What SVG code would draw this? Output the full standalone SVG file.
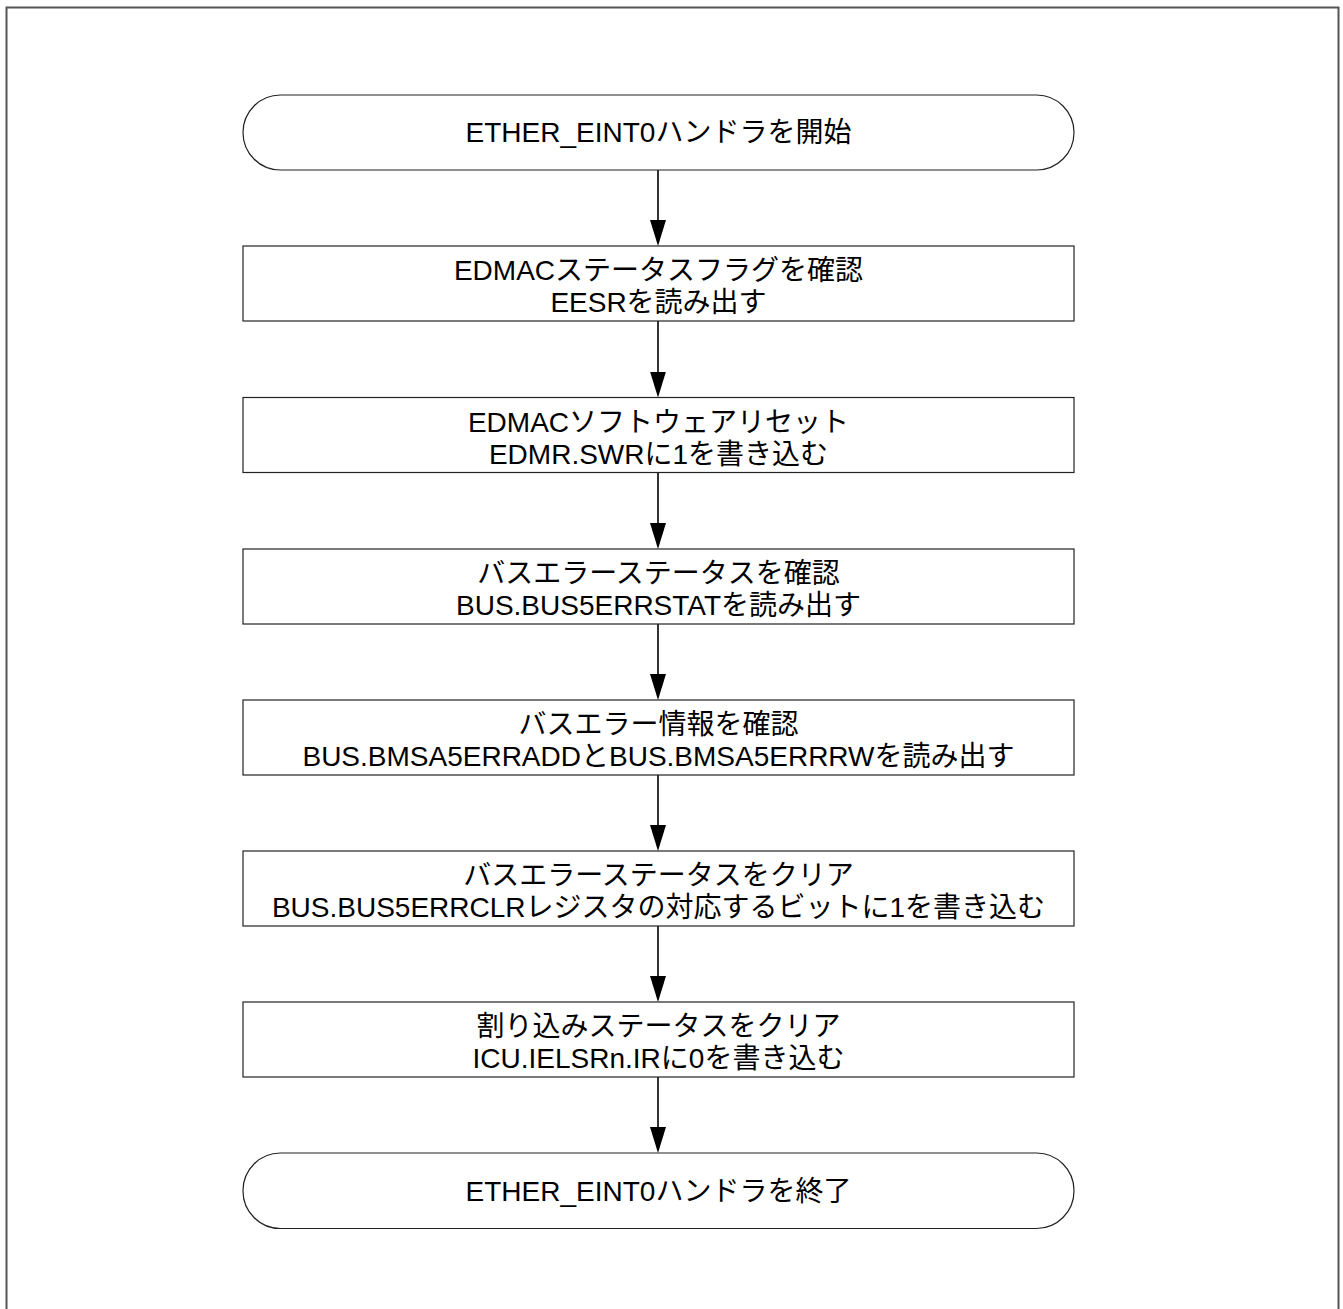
<svg xmlns="http://www.w3.org/2000/svg" width="1343" height="1309" viewBox="0 0 1343 1309">
<defs>
<style>
.frame{fill:none;stroke:#555;stroke-width:2}
.node{fill:#fff;stroke:#222;stroke-width:1.2}
.t{font-family:"Liberation Sans","Noto Sans CJK JP",sans-serif;font-size:28px;fill:#000;text-anchor:middle}
.c{stroke:#000;stroke-width:1.6;fill:none}
</style>
<marker id="ah" markerUnits="userSpaceOnUse" markerWidth="26" markerHeight="16" refX="23" refY="8" orient="auto" viewBox="0 0 26 16">
<path d="M0,0 L26,8 L0,16 Z" fill="#000"/>
</marker>
</defs>
<rect width="1343" height="1309" fill="#fff"/>
<rect class="frame" x="6.5" y="7.5" width="1332" height="1312"/>
<g id="connectors">
<line class="c" x1="658" y1="170" x2="658" y2="243" marker-end="url(#ah)"/>
<line class="c" x1="658" y1="321" x2="658" y2="394.5" marker-end="url(#ah)"/>
<line class="c" x1="658" y1="472.5" x2="658" y2="546" marker-end="url(#ah)"/>
<line class="c" x1="658" y1="624" x2="658" y2="697" marker-end="url(#ah)"/>
<line class="c" x1="658" y1="775" x2="658" y2="848" marker-end="url(#ah)"/>
<line class="c" x1="658" y1="926" x2="658" y2="999" marker-end="url(#ah)"/>
<line class="c" x1="658" y1="1077" x2="658" y2="1150" marker-end="url(#ah)"/>
</g>
<g id="start">
<rect class="node" x="243" y="95" width="831" height="75" rx="37.5" ry="37.5"/>
<text class="t" x="658.5" y="142">ETHER_EINT0ハンドラを開始</text>
</g>
<g id="n1">
<rect class="node" x="243" y="246" width="831" height="75"/>
<text class="t" x="658.5" y="280">EDMACステータスフラグを確認</text>
<text class="t" x="658.5" y="312">EESRを読み出す</text>
</g>
<g id="n2">
<rect class="node" x="243" y="397.5" width="831" height="75"/>
<text class="t" x="658.5" y="431.5">EDMACソフトウェアリセット</text>
<text class="t" x="658.5" y="463.5">EDMR.SWRに1を書き込む</text>
</g>
<g id="n3">
<rect class="node" x="243" y="549" width="831" height="75"/>
<text class="t" x="658.5" y="583">バスエラーステータスを確認</text>
<text class="t" x="658.5" y="615">BUS.BUS5ERRSTATを読み出す</text>
</g>
<g id="n4">
<rect class="node" x="243" y="700" width="831" height="75"/>
<text class="t" x="658.5" y="734">バスエラー情報を確認</text>
<text class="t" x="658.5" y="766">BUS.BMSA5ERRADDとBUS.BMSA5ERRRWを読み出す</text>
</g>
<g id="n5">
<rect class="node" x="243" y="851" width="831" height="75"/>
<text class="t" x="658.5" y="885">バスエラーステータスをクリア</text>
<text class="t" x="658.5" y="917">BUS.BUS5ERRCLRレジスタの対応するビットに1を書き込む</text>
</g>
<g id="n6">
<rect class="node" x="243" y="1002" width="831" height="75"/>
<text class="t" x="658.5" y="1036">割り込みステータスをクリア</text>
<text class="t" x="658.5" y="1068">ICU.IELSRn.IRに0を書き込む</text>
</g>
<g id="end">
<rect class="node" x="243" y="1153" width="831" height="75.5" rx="37.5" ry="37.5"/>
<text class="t" x="658.5" y="1201">ETHER_EINT0ハンドラを終了</text>
</g>
</svg>
